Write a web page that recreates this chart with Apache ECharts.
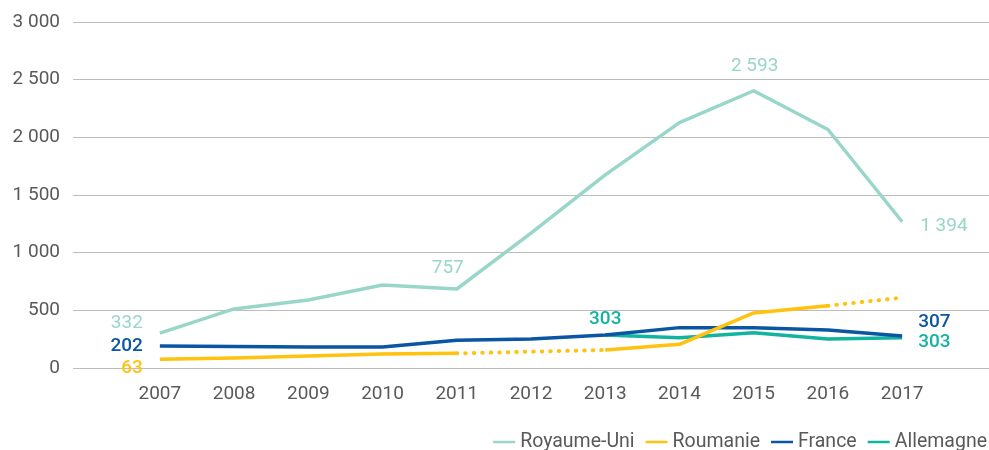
<!DOCTYPE html>
<html>
<head>
<meta charset="utf-8">
<script src="https://cdn.jsdelivr.net/npm/echarts@6/dist/echarts.min.js"></script>
<style>html,body{margin:0;padding:0;background:#fff}#c{width:989px;height:450px}</style>
</head>
<body>
<div id="c"></div>
<script>
const years = [2007, 2008, 2009, 2010, 2011, 2012, 2013, 2014, 2015, 2016, 2017];
const royaumeUni = [303, 512, 590, 720, 685, 1170, 1674, 2127, 2404, 2068, 1268];
const roumanie = [75, 87, 104, 121, 127, null, 156, 205, 477, 540, 610];
const france = [191, 186, 182, 182, 240, 251, 286, 350, 350, 330, 277];
const allemagne = [null, null, null, null, null, null, 286, 263, 306, 251, 263];

const royaumeUniLabels = ['332', null, null, null, '757', null, null, null, '2 593', null, '1 394'];
const roumanieLabels = ['63', null, null, null, null, null, null, null, null, null, '646'];
const franceLabels = ['202', null, null, null, null, null, null, null, null, null, '307'];
const allemagneLabels = [null, null, null, null, null, null, '303', null, null, null, '303'];

const yTicks = [0, 500, 1000, 1500, 2000, 2500, 3000];
// Roumanie: indices drawn as estimated (dotted) segments
const roumanieDottedSegments = [[4, 6], [9, 10]];
const roumanieSolidIdx = [0, 1, 2, 3, 4, 6, 7, 8, 9];

const colors = {
  'Royaume-Uni': '#98d6c9',
  'Roumanie': '#ffc20e',
  'France': '#0a56a3',
  'Allemagne': '#13b3a1'
};

const labelStyle = {
  'Royaume-Uni': {
    0: {position: 'left', distance: 17, offset: [0, -10]},
    4: {position: 'top', distance: 11, offset: [-9, 0]},
    8: {position: 'top', distance: 15, offset: [1, 0]},
    10: {position: 'right', distance: 18, offset: [0, 4]}
  },
  'Roumanie': {
    0: {position: 'left', distance: 17, offset: [0, 9]},
    10: {position: 'right', distance: 16, offset: [0, -8]}
  },
  'France': {
    0: {position: 'left', distance: 17, offset: [0, 0]},
    10: {position: 'right', distance: 16, offset: [0, -14]}
  },
  'Allemagne': {
    6: {position: 'top', distance: 6, offset: [0, 0]},
    10: {position: 'right', distance: 16, offset: [0, 5]}
  }
};

function makeData(name, values, labels, idxList, noBreak) {
  const idx = idxList || values.map((_, i) => i);
  const out = [];
  let prev = null;
  idx.forEach(i => {
    if (!noBreak && prev !== null && i - prev > 1) out.push([years[prev + 1], '-']);
    const v = values[i];
    const item = {value: [years[i], v == null ? '-' : v]};
    if (labels && labels[i] != null) {
      const st = labelStyle[name][i];
      item.label = Object.assign({
        show: true,
        formatter: labels[i],
        color: colors[name],
        fontSize: 19,
        fontFamily: 'Roboto',
        fontWeight: name === 'Royaume-Uni' ? 'normal' : 500
      }, st);
    }
    out.push(item);
    prev = i;
  });
  return out;
}

function lineSeries(name, data, z, dotted) {
  return {
    name: name,
    type: 'line',
    data: data,
    z: z,
    symbol: 'circle',
    symbolSize: 0.01,
    showSymbol: true,
    connectNulls: false,
    silent: true,
    animation: false,
    itemStyle: {color: colors[name]},
    lineStyle: dotted
      ? {color: colors[name], width: 4, type: [0.5, 8], cap: 'round'}
      : {color: colors[name], width: 3.5, cap: 'butt', join: 'round'},
    label: {show: false}
  };
}

const series = [
  lineSeries('Royaume-Uni', makeData('Royaume-Uni', royaumeUni, royaumeUniLabels), 2),
  lineSeries('Roumanie', makeData('Roumanie', roumanie, roumanieLabels, roumanieSolidIdx), 5),
  lineSeries('France', makeData('France', france, franceLabels), 4),
  lineSeries('Allemagne', makeData('Allemagne', allemagne, allemagneLabels), 3)
];
roumanieDottedSegments.forEach(seg => {
  series.push(lineSeries('Roumanie', makeData('Roumanie', roumanie, null, seg, true), 5, true));
});

const chart = echarts.init(document.getElementById('c'), null, {renderer: 'canvas'});
chart.setOption({
  animation: false,
  backgroundColor: '#fff',
  textStyle: {fontFamily: 'Roboto'},
  grid: {left: 73, right: 0, top: 22, bottom: 82, containLabel: false},
  xAxis: {
    type: 'value',
    min: 2005.83,
    max: 2018.17,
    axisLine: {show: false},
    axisTick: {show: false},
    splitLine: {show: false},
    axisLabel: {
      customValues: years,
      formatter: v => String(Math.round(v)),
      color: '#595959',
      fontSize: 19,
      fontFamily: 'Roboto',
      margin: 17
    }
  },
  yAxis: {
    type: 'value',
    min: 0,
    max: 3000,
    interval: 500,
    axisLine: {show: false},
    axisTick: {show: false},
    splitLine: {lineStyle: {color: '#bcbcbc', width: 1}},
    axisLabel: {
      customValues: yTicks,
      formatter: v => String(v).replace(/\B(?=(\d{3})+(?!\d))/g, ' '),
      color: '#595959',
      fontSize: 19,
      fontFamily: 'Roboto',
      margin: 13
    }
  },
  legend: {
    data: ['Royaume-Uni', 'Roumanie', 'France', 'Allemagne'],
    right: 2,
    top: 432,
    padding: 0,
    icon: 'rect',
    itemWidth: 22,
    itemHeight: 2.5,
    itemGap: 11,
    textStyle: {color: '#595959', fontSize: 19.5, fontFamily: 'Roboto'}
  },
  series: series
});
</script>
</body>
</html>
